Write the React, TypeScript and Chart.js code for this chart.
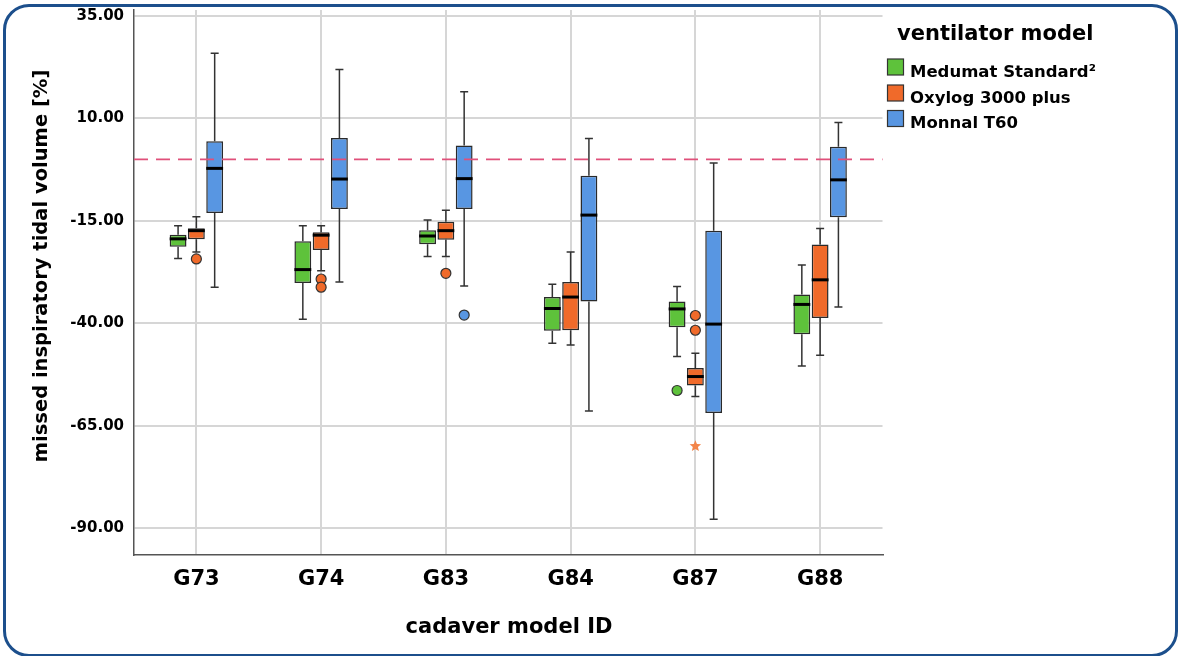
import React, { useEffect, useRef } from 'react';
import { Chart, registerables } from 'chart.js';

Chart.register(...registerables);

// ---------- data ----------
const categories = ['G73', 'G74', 'G83', 'G84', 'G87', 'G88'];
const seriesNames = ['Medumat Standard²', 'Oxylog 3000 plus', 'Monnal T60'];

const medumatMin = [-24.2, -39.0, -23.7, -44.9, -48.1, -50.4];
const medumatQ1 = [-21.3, -30.2, -20.7, -41.8, -41.0, -42.7];
const medumatMedian = [-19.4, -26.9, -18.7, -36.4, -36.5, -35.4];
const medumatQ3 = [-18.4, -20.0, -17.3, -33.6, -34.7, -33.0];
const medumatMax = [-16.2, -16.2, -14.8, -30.5, -31.0, -25.8];
const medumatOutliers: [number, number][] = [[4, -56.4]];
const medumatExtremes: [number, number][] = [];

const oxylogMin = [-22.6, -27.2, -23.7, -45.3, -57.9, -47.8];
const oxylogQ1 = [-19.5, -22.1, -19.6, -41.7, -55.2, -38.7];
const oxylogMedian = [-17.4, -18.5, -17.4, -33.6, -53.0, -29.4];
const oxylogQ3 = [-16.8, -17.8, -15.2, -29.9, -50.9, -20.8];
const oxylogMax = [-14.0, -16.2, -12.4, -22.6, -47.3, -16.9];
const oxylogOutliers: [number, number][] = [[0, -24.3], [1, -29.2], [1, -31.2], [2, -27.8], [4, -38.1], [4, -41.7]];
const oxylogExtremes: [number, number][] = [[4, -70.0]];

const monnalMin = [-31.2, -29.9, -30.9, -61.4, -87.8, -36.0];
const monnalQ1 = [-13.1, -12.1, -12.1, -34.7, -61.9, -14.1];
const monnalMedian = [-2.2, -4.8, -4.7, -13.6, -40.2, -5.0];
const monnalQ3 = [4.4, 5.2, 3.4, -4.0, -17.4, 3.1];
const monnalMax = [25.9, 21.9, 16.5, 5.1, -0.9, 9.0];
const monnalOutliers: [number, number][] = [[2, -38.0]];
const monnalExtremes: [number, number][] = [];

const yTicks = [35, 10, -15, -40, -65, -90];
const yMin = -96.55;
const yMax = 36.45;
const referenceValue = 0;

const yTitle = 'missed inspiratory tidal volume [%]';
const xTitle = 'cadaver model ID';
const legendTitle = 'ventilator model';

// ---------- styles ----------
const seriesColors = ['#5ec23b', '#f06a2a', '#5896e2'];
const FONT = "'DejaVu Sans', sans-serif";

const series = [
  { name: seriesNames[0], color: seriesColors[0], min: medumatMin, q1: medumatQ1, med: medumatMedian, q3: medumatQ3, max: medumatMax, outliers: medumatOutliers, extremes: medumatExtremes },
  { name: seriesNames[1], color: seriesColors[1], min: oxylogMin, q1: oxylogQ1, med: oxylogMedian, q3: oxylogQ3, max: oxylogMax, outliers: oxylogOutliers, extremes: oxylogExtremes },
  { name: seriesNames[2], color: seriesColors[2], min: monnalMin, q1: monnalQ1, med: monnalMedian, q3: monnalQ3, max: monnalMax, outliers: monnalOutliers, extremes: monnalExtremes },
];

function drawStar(ctx: CanvasRenderingContext2D, cx: number, cy: number, r: number) {
  ctx.beginPath();
  for (let k = 0; k < 10; k++) {
    const rad = k % 2 === 0 ? r : r * 0.45;
    const a = -Math.PI / 2 + (k * Math.PI) / 5;
    const px = cx + rad * Math.cos(a);
    const py = cy + rad * Math.sin(a);
    if (k === 0) ctx.moveTo(px, py);
    else ctx.lineTo(px, py);
  }
  ctx.closePath();
  ctx.fill();
}

const boxPlugin = {
  id: 'boxplotExtras',
  beforeDatasetsDraw(chart: any) {
    const ctx: CanvasRenderingContext2D = chart.ctx;
    const y = chart.scales.y;
    ctx.save();
    ctx.strokeStyle = '#333';
    ctx.lineWidth = 1.5;
    series.forEach((s, i) => {
      const meta = chart.getDatasetMeta(i);
      meta.data.forEach((bar: any, j: number) => {
        const x = bar.x;
        const pMin = y.getPixelForValue(s.min[j]);
        const pMax = y.getPixelForValue(s.max[j]);
        const pQ1 = y.getPixelForValue(s.q1[j]);
        const pQ3 = y.getPixelForValue(s.q3[j]);
        ctx.beginPath();
        ctx.moveTo(x, pQ1);
        ctx.lineTo(x, pMin);
        ctx.moveTo(x, pQ3);
        ctx.lineTo(x, pMax);
        ctx.moveTo(x - 4, pMin);
        ctx.lineTo(x + 4, pMin);
        ctx.moveTo(x - 4, pMax);
        ctx.lineTo(x + 4, pMax);
        ctx.stroke();
      });
    });
    ctx.restore();
  },
  afterDatasetsDraw(chart: any) {
    const ctx: CanvasRenderingContext2D = chart.ctx;
    const y = chart.scales.y;
    const area = chart.chartArea;
    ctx.save();
    // medians
    ctx.strokeStyle = '#000';
    ctx.lineWidth = 3;
    series.forEach((s, i) => {
      const meta = chart.getDatasetMeta(i);
      meta.data.forEach((bar: any, j: number) => {
        const py = y.getPixelForValue(s.med[j]);
        ctx.beginPath();
        ctx.moveTo(bar.x - bar.width / 2, py);
        ctx.lineTo(bar.x + bar.width / 2, py);
        ctx.stroke();
      });
    });
    // outliers
    series.forEach((s, i) => {
      const meta = chart.getDatasetMeta(i);
      s.outliers.forEach(([j, v]) => {
        const bar: any = meta.data[j];
        const py = y.getPixelForValue(v);
        ctx.beginPath();
        ctx.arc(bar.x, py, 5, 0, Math.PI * 2);
        ctx.fillStyle = s.color;
        ctx.fill();
        ctx.lineWidth = 1.2;
        ctx.strokeStyle = '#333';
        ctx.stroke();
      });
      s.extremes.forEach(([j, v]) => {
        const bar: any = meta.data[j];
        const py = y.getPixelForValue(v);
        ctx.fillStyle = '#f3854a';
        drawStar(ctx, bar.x, py, 6);
      });
    });
    // reference line
    const ry = y.getPixelForValue(referenceValue);
    ctx.setLineDash([14, 8]);
    ctx.strokeStyle = '#e0507a';
    ctx.lineWidth = 1.7;
    ctx.beginPath();
    ctx.moveTo(area.left, ry);
    ctx.lineTo(area.right, ry);
    ctx.stroke();
    ctx.setLineDash([]);
    ctx.restore();
  },
  afterDraw(chart: any) {
    const ctx: CanvasRenderingContext2D = chart.ctx;
    const area = chart.chartArea;
    ctx.save();
    ctx.fillStyle = '#000';
    // y title
    ctx.font = `bold 19.5px ${FONT}`;
    ctx.textAlign = 'center';
    ctx.textBaseline = 'middle';
    ctx.save();
    ctx.translate(42, 266);
    ctx.rotate(-Math.PI / 2);
    ctx.fillText(yTitle, 0, 0);
    ctx.restore();
    // x title
    ctx.font = `bold 21px ${FONT}`;
    ctx.fillText(xTitle, 509, 628);
    // legend
    ctx.textAlign = 'left';
    ctx.textBaseline = 'alphabetic';
    ctx.font = `bold 21px ${FONT}`;
    ctx.fillText(legendTitle, 897, 40);
    ctx.font = `bold 16.5px ${FONT}`;
    const rowY = [67, 93, 118.5];
    series.forEach((s, i) => {
      ctx.fillStyle = s.color;
      ctx.fillRect(887.5, rowY[i] - 8, 16, 16);
      ctx.strokeStyle = '#333';
      ctx.lineWidth = 1.2;
      ctx.strokeRect(887.5, rowY[i] - 8, 16, 16);
      ctx.fillStyle = '#000';
      ctx.fillText(s.name, 910, rowY[i] + 9.5);
    });
    ctx.restore();
  },
};

export default function App() {
  const ref = useRef<HTMLCanvasElement | null>(null);
  useEffect(() => {
    if (!ref.current) return;
    document.body.style.margin = '0';
    const chart = new Chart(ref.current, {
      type: 'bar',
      data: {
        labels: categories,
        datasets: series.map((s) => ({
          label: s.name,
          data: categories.map((_, j) => [s.q1[j], s.q3[j]]),
          backgroundColor: s.color,
          borderColor: '#2a2a2a',
          borderWidth: 1.5,
          borderSkipped: false,
          barPercentage: 0.92,
          categoryPercentage: 0.44,
        })) as any,
      },
      options: {
        animation: false,
        responsive: false,
        devicePixelRatio: 1,
        layout: { padding: { left: 0, right: 296.5, top: 10, bottom: 0 } },
        plugins: {
          legend: { display: false },
          tooltip: { enabled: false },
        },
        scales: {
          x: {
            type: 'category',
            offset: true,
            grid: { offset: false, color: '#d6d6d6', lineWidth: 2, drawTicks: false },
            border: { color: '#555', width: 1.5 },
            ticks: { color: '#000', font: { family: FONT, weight: 'bold', size: 21 }, padding: 12, maxRotation: 0 },
            afterFit: (scale: any) => {
              scale.height = 101;
              scale.paddingLeft = 0;
              scale.paddingRight = 0;
            },
          },
          y: {
            type: 'linear',
            min: yMin,
            max: yMax,
            grid: { color: '#d6d6d6', lineWidth: 2, drawTicks: false },
            border: { color: '#555', width: 1.5 },
            ticks: {
              color: '#000',
              font: { family: FONT, weight: 'bold', size: 15 },
              padding: 10,
              callback: (v: any) => Number(v).toFixed(2),
            },
            afterBuildTicks: (scale: any) => { scale.ticks = yTicks.map((v) => ({ value: v })); },
            afterFit: (scale: any) => {
              scale.width = 134;
              scale.paddingTop = 0;
              scale.paddingBottom = 0;
            },
          },
        },
      } as any,
      plugins: [boxPlugin],
    });
    return () => chart.destroy();
  }, []);

  return (
    <div style={{ position: 'fixed', left: 0, top: 0, width: 1179, height: 656, background: '#fff', overflow: 'hidden' }}>
      <canvas ref={ref} width={1179} height={656} style={{ width: 1179, height: 656, display: 'block' }} />
      <div
        style={{
          position: 'absolute',
          left: 3,
          top: 4,
          width: 1175,
          height: 653,
          boxSizing: 'border-box',
          border: '3px solid #1c4f8c',
          borderRadius: 26,
          pointerEvents: 'none',
        }}
      />
    </div>
  );
}
